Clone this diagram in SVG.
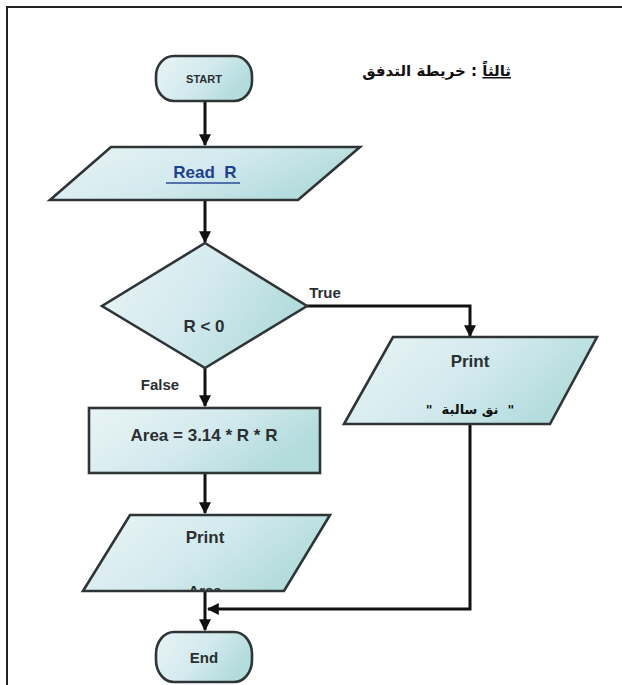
<svg xmlns="http://www.w3.org/2000/svg" width="622" height="685" viewBox="0 0 622 685">
  <defs>
    <linearGradient id="fillG" x1="0" y1="0" x2="1" y2="0.4">
      <stop offset="0" stop-color="#e9f4f6"/>
      <stop offset="0.55" stop-color="#d4eaee"/>
      <stop offset="1" stop-color="#b3dcdc"/>
    </linearGradient>
    <marker id="arr" viewBox="0 0 10 10" refX="9" refY="5" markerWidth="4" markerHeight="4" orient="auto" markerUnits="strokeWidth">
      <path d="M0,0 L10,5 L0,10 Z" fill="#111"/>
    </marker>
    <clipPath id="clipArea">
      <rect x="60" y="500" width="300" height="90"/>
    </clipPath>
    <style>
      .shape { fill: url(#fillG); stroke: #2f3436; stroke-width: 2.6; }
      .conn { fill: none; stroke: #111; stroke-width: 3; }
      .lbl { font-family: "Liberation Sans", "DejaVu Sans", sans-serif; font-weight: bold; fill: #2b2f31; text-anchor: middle; }
      .ar { font-family: "DejaVu Sans", "Noto Sans", sans-serif; font-weight: bold; fill: #111; }
    </style>
  </defs>
  <rect width="622" height="685" fill="#ffffff"/>
  <!-- page border -->
  <path d="M7 685 V7 H622" fill="none" stroke="#222" stroke-width="2"/>

  <g id="title">
    <text class="ar" x="511" y="76" font-size="15" text-anchor="start" direction="rtl"><tspan text-decoration="underline">ثالثاً</tspan> : خريطة التدفق</text>
  </g>

  <g id="connectors">
    <line class="conn" x1="205" y1="102" x2="205" y2="145" marker-end="url(#arr)"/>
    <line class="conn" x1="205" y1="201" x2="205" y2="242" marker-end="url(#arr)"/>
    <polyline class="conn" points="307,306 470,306 470,336" marker-end="url(#arr)"/>
    <line class="conn" x1="205" y1="368" x2="205" y2="406" marker-end="url(#arr)"/>
    <line class="conn" x1="205" y1="474" x2="205" y2="513" marker-end="url(#arr)"/>
    <line class="conn" x1="205" y1="592" x2="205" y2="630" marker-end="url(#arr)"/>
    <polyline class="conn" points="470,424 470,609 208,609" marker-end="url(#arr)"/>
    <text class="lbl" x="325" y="298" font-size="15">True</text>
    <text class="lbl" x="160" y="390" font-size="15">False</text>
  </g>

  <g id="start">
    <rect class="shape" x="156" y="56" width="96" height="45" rx="18" ry="20"/>
    <text class="lbl" x="204" y="83" font-size="11">START</text>
  </g>

  <g id="readR">
    <polygon class="shape" points="111,147 360,147 298,200 50,200"/>
    <text class="lbl" x="205" y="178" font-size="17" style="fill:#1f3f8f" xml:space="preserve">Read  R</text>
    <line x1="166" y1="183" x2="240" y2="183" stroke="#2a4a9a" stroke-width="1.6"/>
  </g>

  <g id="decision">
    <polygon class="shape" points="205,243 307,306 205,368 102,306"/>
    <text class="lbl" x="204" y="332" font-size="17">R &lt; 0</text>
  </g>

  <g id="printMsg">
    <polygon class="shape" points="393,337 597,337 550,424 344,424"/>
    <text class="lbl" x="470" y="367" font-size="17">Print</text>
    <text class="ar" x="470" y="414" font-size="13" text-anchor="middle" direction="rtl" xml:space="preserve">"  نق سالبة  "</text>
  </g>

  <g id="area">
    <rect class="shape" x="89" y="408" width="231" height="65"/>
    <text class="lbl" x="204" y="441" font-size="17">Area = 3.14 * R * R</text>
  </g>

  <g id="printArea">
    <polygon class="shape" points="130,515 330,515 284,591 83,591"/>
    <text class="lbl" x="205" y="543" font-size="17">Print</text>
    <text class="lbl" x="205" y="596" font-size="15" clip-path="url(#clipArea)">Area</text>
  </g>

  <g id="end">
    <rect class="shape" x="156" y="632" width="96" height="50" rx="18" ry="22"/>
    <text class="lbl" x="204" y="663" font-size="15">End</text>
  </g>
</svg>
